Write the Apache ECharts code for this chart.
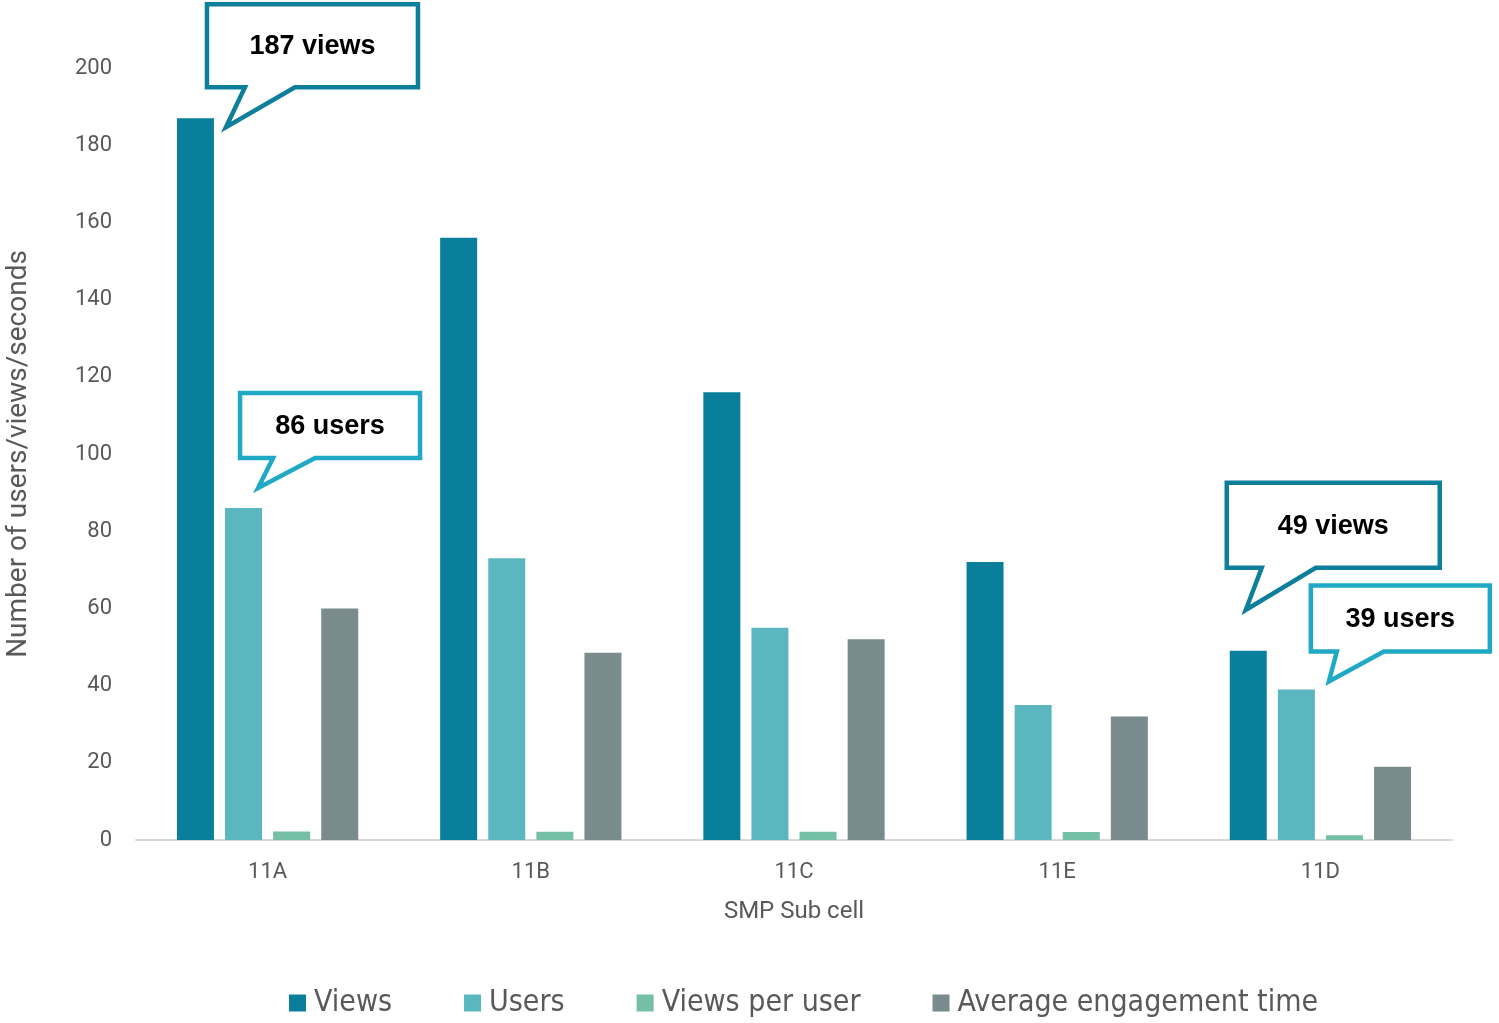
<!DOCTYPE html>
<html>
<head>
<meta charset="utf-8">
<script src="https://cdn.jsdelivr.net/npm/echarts@6/dist/echarts.min.js"></script>
<style>
html,body{margin:0;padding:0;background:#fff;}
#chart{width:1499px;height:1023px;}
</style>
</head>
<body>
<div id="chart"></div>
<script>
const categories = ['11A', '11B', '11C', '11E', '11D'];
const views = [187, 156, 116, 72, 49];
const users = [86, 73, 55, 35, 39];
const viewsPerUser = [2.17, 2.14, 2.11, 2.06, 1.26];
const avgEngagement = [60, 48.5, 52, 32, 19];
const seriesNames = ['Views', 'Users', 'Views per user', 'Average engagement time'];
const yTicks = { min: 0, max: 200, interval: 20 };

const colors = ['#0a7f9b', '#5ab6bf', '#74bfa6', '#7a8b8d'];

// Callouts: anchored on a bar (series, data index); geometry offsets relative to bar top-left
const callouts = [
  { s: 0, d: 0, text: '187 views', color: '#0e7f9b', rect: [28, 243, -116, -29], tail: [68, 118], tip: [49, 9] },
  { s: 1, d: 0, text: '86 users', color: '#1fa9c4', rect: [13, 197, -117, -48], tail: [48, 90], tip: [33, -20] },
  { s: 0, d: 4, text: '49 views', color: '#0e7f9b', rect: [-5, 212, -170, -81], tail: [32, 86], tip: [16, -41] },
  { s: 1, d: 4, text: '39 users', color: '#1fa9c4', rect: [31, 214, -106, -36], tail: [59, 106], tip: [51, -8] }
];

const chart = echarts.init(document.getElementById('chart'));
const dataSets = [views, users, viewsPerUser, avgEngagement];

chart.setOption({
  animation: false,
  color: colors,
  grid: { left: 136, right: 47, top: 68, bottom: 183, containLabel: false, outerBoundsMode: 'none' },
  legend: {
    bottom: 0,
    left: 284,
    icon: 'rect',
    itemWidth: 17,
    itemHeight: 17,
    itemGap: 72,
    textStyle: { fontSize: 30, color: '#595959', padding: [0, 0, 0, 3], fontFamily: '"Liberation Sans Narrow","DejaVu Sans Condensed","Roboto",sans-serif' },
    data: seriesNames
  },
  xAxis: {
    type: 'category',
    data: categories,
    name: 'SMP Sub cell',
    nameLocation: 'middle',
    nameGap: 60,
    nameTextStyle: { fontSize: 24, color: '#595959', fontFamily: 'Roboto, sans-serif' },
    axisLine: { lineStyle: { color: '#d9d9d9', width: 2 } },
    axisTick: { show: false },
    axisLabel: { fontSize: 22, color: '#595959', margin: 21, fontFamily: 'Roboto, sans-serif' }
  },
  yAxis: {
    type: 'value',
    min: yTicks.min, max: yTicks.max, interval: yTicks.interval,
    name: 'Number of users/views/seconds',
    nameLocation: 'middle',
    nameGap: 103,
    nameTextStyle: { fontSize: 28, color: '#595959', fontFamily: 'Roboto, sans-serif' },
    axisLine: { show: false },
    axisTick: { show: false },
    splitLine: { show: false },
    axisLabel: { fontSize: 22, color: '#595959', margin: 24, fontFamily: 'Roboto, sans-serif' }
  },
  series: seriesNames.map((n, i) => ({
    name: n,
    type: 'bar',
    data: dataSets[i],
    barWidth: 37,
    barGap: '30%',
    itemStyle: { color: colors[i] }
  }))
});

function drawCallouts() {
  const model = chart.getModel();
  const elements = [];
  callouts.forEach((c) => {
    const lay = model.getSeriesByIndex(c.s).getData().getItemLayout(c.d);
    const bx = lay.x;
    const by = Math.min(lay.y, lay.y + lay.height);
    const L = bx + c.rect[0] + 2, R = bx + c.rect[1] - 2, T = by + c.rect[2] + 2, B = by + c.rect[3] - 2;
    const pts = [[L, T], [R, T], [R, B], [bx + c.tail[1], B], [bx + c.tip[0], by + c.tip[1]], [bx + c.tail[0], B], [L, B]];
    elements.push({
      type: 'polygon', z: 100,
      shape: { points: pts },
      style: { fill: '#ffffff', stroke: c.color, lineWidth: 4.5, lineJoin: 'miter' }
    });
    elements.push({
      type: 'text', z: 101,
      x: (L + R) / 2, y: (T + B) / 2 + 1,
      style: { text: c.text, align: 'center', verticalAlign: 'middle', fill: '#000', font: 'bold 27px "Liberation Sans", Arial, sans-serif' }
    });
  });
  chart.setOption({ graphic: { elements } });
}
drawCallouts();
</script>
</body>
</html>
